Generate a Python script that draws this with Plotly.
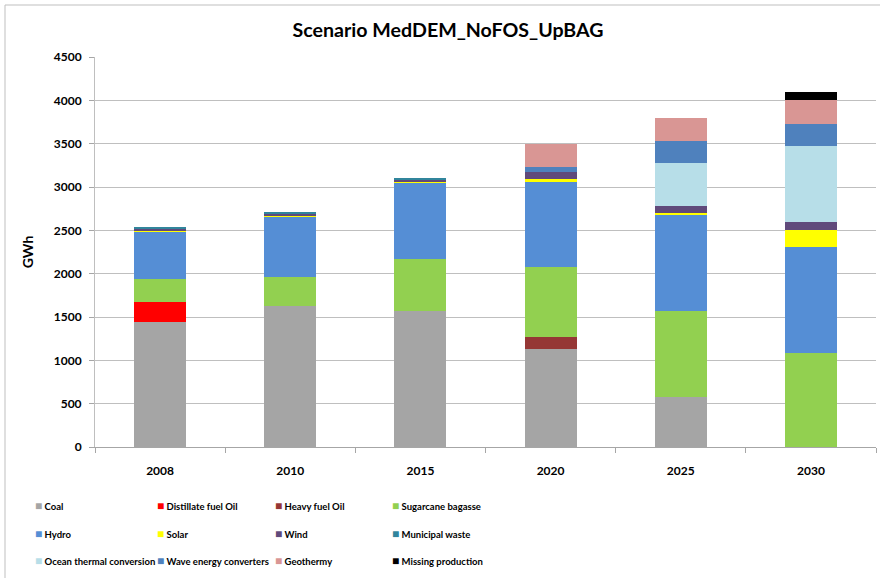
import plotly.graph_objects as go

years = ["2008", "2010", "2015", "2020", "2025", "2030"]

coal = [1438, 1626, 1572, 1127, 573, 0]
distillate_fuel_oil = [238, 0, 0, 0, 0, 0]
heavy_fuel_oil = [0, 0, 0, 145, 0, 0]
sugarcane_bagasse = [258, 338, 593, 808, 996, 1081]
hydro = [550, 692, 888, 988, 1115, 1229]
solar = [8, 10, 12, 20, 15, 193]
wind = [25, 30, 17, 80, 81, 96]
municipal_waste = [24, 11, 17, 0, 0, 0]
ocean_thermal = [0, 0, 0, 0, 500, 873]
wave_energy = [0, 0, 0, 65, 253, 257]
geothermy = [0, 0, 0, 262, 262, 270]
missing_production = [0, 0, 0, 0, 0, 99]

series_names = ["Coal", "Distillate fuel Oil", "Heavy fuel Oil", "Sugarcane bagasse",
                "Hydro", "Solar", "Wind", "Municipal waste",
                "Ocean thermal conversion", "Wave energy converters", "Geothermy",
                "Missing production"]
series_values = [coal, distillate_fuel_oil, heavy_fuel_oil, sugarcane_bagasse,
                 hydro, solar, wind, municipal_waste,
                 ocean_thermal, wave_energy, geothermy, missing_production]
series_colors = ["#A5A5A5", "#FF0000", "#953735", "#92D050",
                 "#558ED5", "#FFFF00", "#604A7B", "#31859C",
                 "#B7DEE8", "#4F81BD", "#D99694", "#000000"]

FONT = "Lato, Liberation Sans, sans-serif"

W, H = 880, 578
L, R, T, B = 95, 4, 57, 131
pw = W - L - R
ph = H - T - B


def px2paper_x(p):
    return (p - L) / pw


def px2paper_y(p):
    return (H - B - p) / ph


# legend grid (pixel positions of swatch left edge / row centre)
col_px = [35, 157, 275, 392]
row_px = [506, 534, 561]

fig = go.Figure()
layout_legends = {}
for i, (name, vals, col) in enumerate(zip(series_names, series_values, series_colors)):
    lid = "legend" if i == 0 else f"legend{i + 1}"
    fig.add_trace(go.Bar(
        x=years, y=vals, name=name,
        marker=dict(color=col, line=dict(width=0)),
        showlegend=False, legendgroup=name,
    ))
    # legend entry: coloured square glyph right next to the label
    fig.add_trace(go.Scatter(
        x=[None], y=[None], mode="markers",
        marker=dict(color="rgba(0,0,0,0)", size=1),
        name=f'<span style="color:{col};font-size:12px">\u25A0</span> {name}',
        legend=lid, legendgroup=name, hoverinfo="skip",
    ))
    layout_legends[lid] = dict(
        orientation="h", xanchor="left", yanchor="middle",
        x=px2paper_x(col_px[i % 4] - 40), y=px2paper_y(row_px[i // 4]),
        font=dict(family=FONT, size=9.5, color="#000000", weight="bold"),
        bgcolor="rgba(0,0,0,0)", itemclick=False, itemdoubleclick=False,
    )

fig.update_layout(
    width=W, height=H,
    margin=dict(l=L, r=R, t=T, b=B, pad=0, autoexpand=False),
    barmode="stack",
    bargap=0.6,
    plot_bgcolor="white",
    paper_bgcolor="white",
    font=dict(family=FONT, color="#000000"),
    title=dict(text="<b>Scenario MedDEM_NoFOS_UpBAG</b>",
               x=448 / W, xref="container", xanchor="center",
               y=1 - 30 / H, yref="container", yanchor="middle",
               font=dict(family=FONT, size=19.6, color="#000000")),
    xaxis=dict(
        type="category",
        showgrid=False, automargin=False,
        showline=True, linecolor="#A6A6A6", linewidth=1,
        ticks="outside", tickson="boundaries", ticklen=5, tickcolor="#A6A6A6",
        ticklabelstandoff=13,
        tickfont=dict(family=FONT, size=12, color="#000000", weight="bold"),
    ),
    yaxis=dict(
        range=[0, 4500], dtick=500, tick0=0, automargin=False,
        showgrid=True, gridcolor="#BFBFBF", gridwidth=1,
        showline=True, linecolor="#BFBFBF", linewidth=1,
        ticks="outside", ticklen=5, tickcolor="#A6A6A6",
        ticklabelstandoff=5,
        tickfont=dict(family=FONT, size=12, color="#000000", weight="bold"),
        zeroline=False,
        title=dict(text="GWh", standoff=16,
                   font=dict(family=FONT, size=14, color="#000000", weight="bold")),
    ),
    **layout_legends,
)

fig.add_shape(type="rect", xref="paper", yref="paper",
              x0=px2paper_x(5), x1=px2paper_x(893),
              y0=px2paper_y(595), y1=px2paper_y(5),
              line=dict(color="#BFBFBF", width=1), fillcolor="rgba(0,0,0,0)",
              layer="below")

fig.write_html("out.html", config={"displayModeBar": False},
               post_script="document.body.style.margin='0px';")
